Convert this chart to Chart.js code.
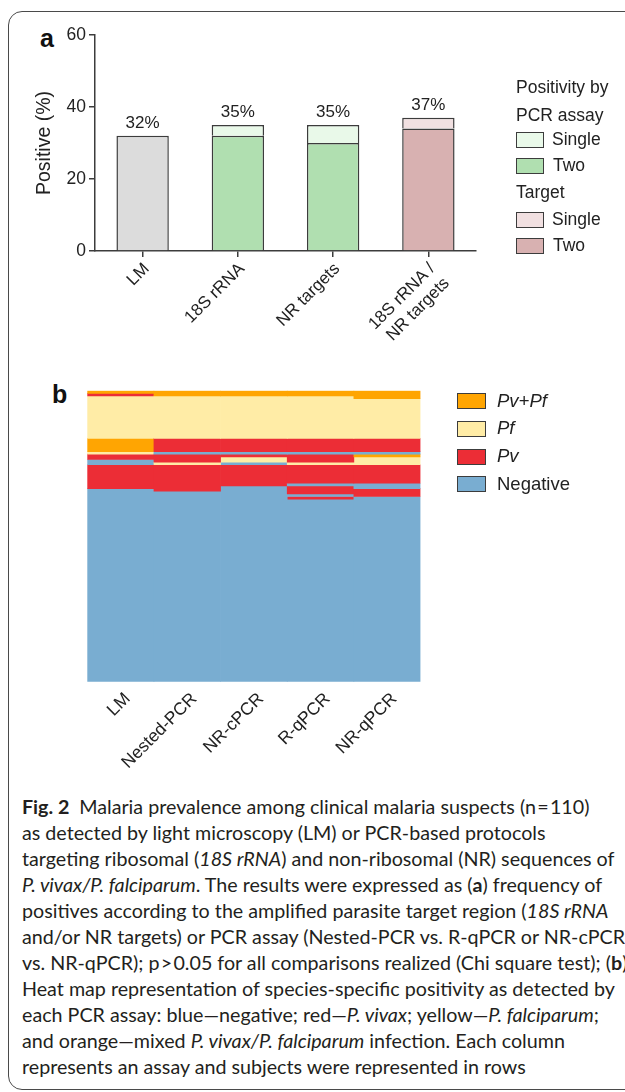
<!DOCTYPE html>
<html>
<head>
<meta charset="utf-8">
<script src="https://cdn.jsdelivr.net/npm/chart.js@4.4.1/dist/chart.umd.min.js"></script>
<style>
  body { margin: 0; width: 625px; height: 1092px; background: #fff; position: relative; overflow: hidden; font-family: "Liberation Sans", Arial, sans-serif; color: #222; }
  .frame { position: absolute; left: 8px; top: 11px; width: 700px; height: 1077px; border: 1.5px solid #4a4a4a; border-radius: 14px; }
  .panel { position: absolute; font-weight: bold; font-size: 25px; color: #111; line-height: 1; }
  .wrap { position: absolute; left: 0; }
  .legend { position: absolute; font-size: 17.5px; color: #222; line-height: 1; }
  .legend .box { position: absolute; left: 0; width: 26px; height: 14px; border: 1.5px solid #3c3c3c; }
  .legend .txt { position: absolute; white-space: nowrap; }
  .caption { position: absolute; left: 22px; top: 794px; font-family: Lato, "Noto Sans", sans-serif; font-size: 19.7px; line-height: 26px; color: #231f20; white-space: nowrap; }
</style>
</head>
<body>
<div class="frame"></div>
<div class="panel" style="left:40px; top:26px;">a</div>
<div class="panel" style="left:52px; top:382px;">b</div>

<div class="wrap" style="top:0; width:625px; height:345px;"><canvas id="chartA" width="625" height="345"></canvas></div>
<div class="wrap" style="top:345px; width:625px; height:440px;"><canvas id="chartB" width="625" height="440"></canvas></div>

<div class="legend" id="legendA" style="left:516px; top:0;"></div>
<div class="legend" id="legendB" style="left:457px; top:0;"></div>

<div class="caption">
<b>Fig. 2</b>&ensp;Malaria prevalence among clinical malaria suspects (n&#8202;=&#8202;110)<br>
as detected by light microscopy (LM) or PCR-based protocols<br>
targeting ribosomal (<i>18S rRNA</i>) and non-ribosomal (NR) sequences of<br>
<i>P. vivax/P. falciparum</i>. The results were expressed as (<b>a</b>) frequency of<br>
positives according to the amplified parasite target region (<i>18S rRNA</i><br>
and/or NR targets) or PCR assay (Nested-PCR vs. R-qPCR or NR-cPCR<br>
vs. NR-qPCR); p&#8202;&gt;&#8202;0.05 for all comparisons realized (Chi square test); (<b>b</b>)<br>
Heat map representation of species-specific positivity as detected by<br>
each PCR assay: blue—negative; red—<i>P. vivax</i>; yellow—<i>P. falciparum</i>;<br>
and orange—mixed <i>P. vivax/P. falciparum</i> infection. Each column<br>
represents an assay and subjects were represented in rows
</div>

<script>
// ---- panel a: positivity (%) ----
const catA = ['LM', '18S rRNA', 'NR targets', ['18S rRNA /', 'NR targets']];
const lmPositive = [32, null, null, null];
const assayTwo = [null, 32, 30, null];
const assaySingle = [null, 3, 5, null];
const targetTwo = [null, null, null, 34];
const targetSingle = [null, null, null, 3];
const yTicksA = [0, 20, 40, 60];

// ---- panel b: heat map, runs of subjects from the top row down ----
const assays = ['LM', 'Nested-PCR', 'NR-cPCR', 'R-qPCR', 'NR-qPCR'];
const nSubjects = 110;
const lmRuns = [['Pv+Pf', 1], ['Pv', 1], ['Pf', 16], ['Pv+Pf', 5], ['Pf', 1], ['Pv', 2], ['Negative', 2], ['Pv', 9], ['Negative', 73]];
const nestedRuns = [['Pv+Pf', 2], ['Pf', 16], ['Pv', 5], ['Negative', 1], ['Pv', 3], ['Pf', 1], ['Pv', 10], ['Negative', 72]];
const nrcRuns = [['Pv+Pf', 2], ['Pf', 16], ['Pv', 5], ['Negative', 1], ['Pv', 1], ['Pf', 2], ['Negative', 1], ['Pv', 8], ['Negative', 74]];
const rqRuns = [['Pv+Pf', 2], ['Pf', 16], ['Pv', 5], ['Negative', 1], ['Pv', 3], ['Pf', 1], ['Pv', 7], ['Negative', 1], ['Pv', 3], ['Negative', 1], ['Pv', 1], ['Negative', 69]];
const nrqRuns = [['Pv+Pf', 3], ['Pf', 15], ['Pv', 5], ['Negative', 1], ['Pv+Pf', 1], ['Pf', 3], ['Pv', 7], ['Negative', 2], ['Pv', 3], ['Negative', 70]];
const resultTypes = ['Pv+Pf', 'Pf', 'Pv', 'Negative'];

const ink = '#3c3c3c';
const textCol = '#222';
const fontFam = '"Liberation Sans", Arial, sans-serif';
const heatColors = { 'Pv+Pf': '#ffa502', 'Pf': '#ffeca6', 'Pv': '#ec2d36', 'Negative': '#79add1' };

// legend a (html, grouped titles)
function buildLegendA() {
  const el = document.getElementById('legendA');
  const items = [
    { t: 'Positivity by', y: 79 },
    { t: 'PCR assay', y: 107 },
    { box: '#e9f9e9', t: 'Single', y: 132 },
    { box: '#b0dfb0', t: 'Two', y: 158 },
    { t: 'Target', y: 184 },
    { box: '#f1e0e1', t: 'Single', y: 212 },
    { box: '#d8b1b1', t: 'Two', y: 238 }
  ];
  items.forEach(it => {
    if (it.box) {
      let b = document.createElement('div');
      b.className = 'box'; b.style.top = it.y + 'px'; b.style.background = it.box;
      el.appendChild(b);
    }
    let s = document.createElement('div');
    s.className = 'txt';
    s.style.top = (it.box ? it.y - 1 : it.y) + 'px';
    s.style.left = (it.box ? (it.t == 'Two' ? 37 : 36) : 0) + 'px';
    s.innerText = it.t;
    el.appendChild(s);
  });
}
buildLegendA();

function buildLegendB() {
  const el = document.getElementById('legendB');
  resultTypes.forEach((r, i) => {
    const y = 393 + i * 27.8;
    let b = document.createElement('div');
    b.className = 'box'; b.style.top = y + 'px'; b.style.width = '27px'; b.style.background = heatColors[r];
    el.appendChild(b);
    let s = document.createElement('div');
    s.className = 'txt'; s.style.top = (y - 1.5) + 'px'; s.style.left = '40px';
    s.style.fontSize = '18.5px';
    if (r != 'Negative') s.style.fontStyle = 'italic';
    s.innerText = r;
    el.appendChild(s);
  });
}
buildLegendB();

// totals above the bars
const totalLabels = {
  id: 'totalLabels',
  afterDatasetsDraw(chart) {
    const ctx = chart.ctx;
    chart.data.labels.forEach((l, i) => {
      let sum = 0;
      chart.data.datasets.forEach(ds => { sum += ds.data[i] || 0; });
      const x = chart.scales.x.getPixelForValue(i);
      const y = chart.scales.y.getPixelForValue(sum);
      ctx.save();
      ctx.font = '17px ' + fontFam;
      ctx.fillStyle = textCol;
      ctx.textAlign = 'center';
      ctx.textBaseline = 'alphabetic';
      ctx.fillText(sum + '%', x, y - 8);
      ctx.restore();
    });
  }
};

new Chart(document.getElementById('chartA'), {
  type: 'bar',
  data: {
    labels: catA,
    datasets: [
      { label: 'LM', data: lmPositive, backgroundColor: '#dcdcdc' },
      { label: 'Two', data: assayTwo, backgroundColor: '#b0dfb0' },
      { label: 'Single', data: assaySingle, backgroundColor: '#e9f9e9' },
      { label: 'Two', data: targetTwo, backgroundColor: '#d8b1b1' },
      { label: 'Single', data: targetSingle, backgroundColor: '#f1e0e1' }
    ]
  },
  options: {
    responsive: false,
    animation: false,
    layout: { padding: { left: 0, top: 35, right: 149, bottom: 0 } },
    plugins: { legend: { display: false }, tooltip: { enabled: false } },
    datasets: {
      bar: {
        borderColor: ink,
        borderWidth: c => (c.raw == null ? 0 : 1.5),
        borderSkipped: 'bottom', barPercentage: 0.55, categoryPercentage: 1
      }
    },
    scales: {
      x: {
        stacked: true,
        grid: { offset: false, drawOnChartArea: false, tickLength: 6, color: ink, lineWidth: 1.5 },
        border: { color: ink, width: 1.5 },
        ticks: { minRotation: 45, maxRotation: 45, autoSkip: false, labelOffset: 4, color: textCol, padding: 2, font: { size: 17, family: fontFam } },
        afterFit: s => { s.height = 94; }
      },
      y: {
        stacked: true, min: 0, max: 60,
        afterBuildTicks: s => { s.ticks = yTicksA.map(v => ({ value: v })); },
        grid: { drawOnChartArea: false, tickLength: 6, color: ink, lineWidth: 1.5 },
        border: { color: ink, width: 1.5 },
        ticks: { color: textCol, padding: 3, font: { size: 17.5, family: fontFam } },
        title: { display: true, text: 'Positive (%)', color: textCol, padding: { top: 33, bottom: 0 }, font: { size: 19.5, family: fontFam } },
        afterFit: s => { s.width = 95; }
      }
    }
  },
  plugins: [totalLabels]
});

// heat map as floating bars: one dataset per run position
const columns = [lmRuns, nestedRuns, nrcRuns, rqRuns, nrqRuns];
const maxRuns = Math.max(...columns.map(c => c.length));
const heatSets = [];
for (let k = 0; k < maxRuns; k++) {
  const data = [], colors = [];
  columns.forEach(runs => {
    let start = 0;
    for (let j = 0; j < k && j < runs.length; j++) start += runs[j][1];
    if (k < runs.length) {
      data.push([start, start + runs[k][1]]);
      colors.push(heatColors[runs[k][0]]);
    } else {
      data.push(null);
      colors.push('rgba(0,0,0,0)');
    }
  });
  heatSets.push({ data: data, backgroundColor: colors, borderWidth: 0, grouped: false, barPercentage: 1, categoryPercentage: 1 });
}

new Chart(document.getElementById('chartB'), {
  type: 'bar',
  data: { labels: assays, datasets: heatSets },
  options: {
    responsive: false,
    animation: false,
    layout: { padding: { left: 87.3, top: 45.7, right: 204.5, bottom: 0 } },
    plugins: { legend: { display: false }, tooltip: { enabled: false } },
    scales: {
      x: {
        grid: { display: false, drawTicks: false },
        border: { display: false },
        ticks: { minRotation: 45, maxRotation: 45, autoSkip: false, labelOffset: 7, color: textCol, padding: 7, font: { size: 17.5, family: fontFam } },
        afterFit: s => { s.height = 103.3; }
      },
      y: { display: false, reverse: true, min: 0, max: nSubjects }
    }
  }
});
</script>
</body>
</html>
